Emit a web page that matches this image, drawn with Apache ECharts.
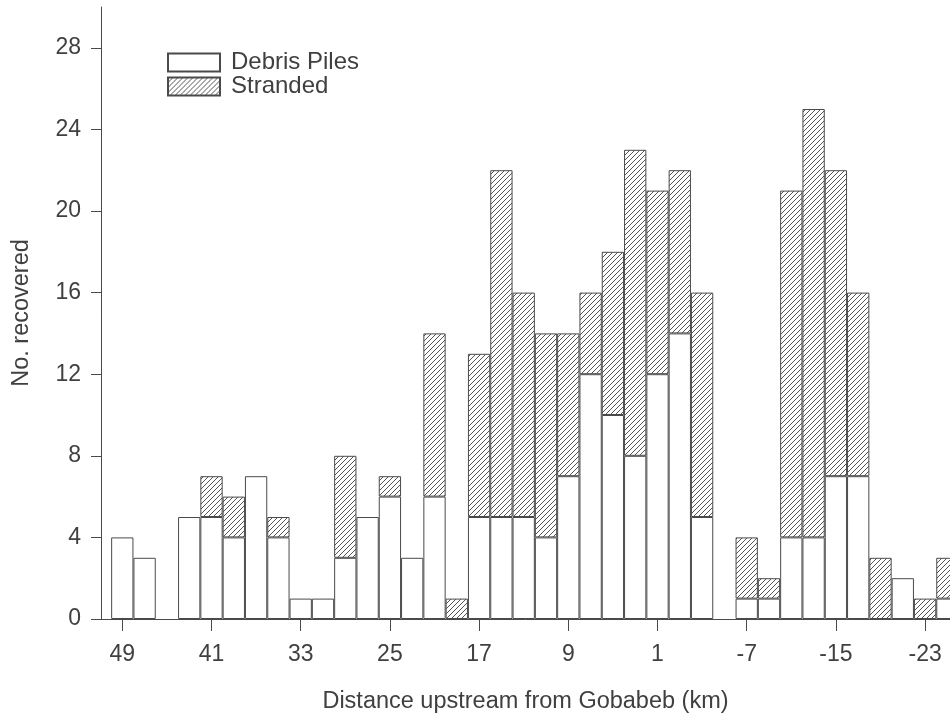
<!DOCTYPE html>
<html>
<head>
<meta charset="utf-8">
<script src="https://cdn.jsdelivr.net/npm/echarts@6/dist/echarts.min.js"></script>
<style>
html,body{margin:0;padding:0;background:#fff;}
#chart{width:950px;height:713px;}
</style>
</head>
<body>
<div id="chart"></div>
<script>
// Bin centres (km upstream from Gobabeb), 2 km bins
var distances = [49,47,45,43,41,39,37,35,33,31,29,27,25,23,21,19,17,15,13,11,9,7,5,3,1,-1,-3,-5,-7,-9,-11,-13,-15,-17,-19,-21,-23,-25];
var debrisPiles = [4,3,0,5,5,4,7,4,1,1,3,5,6,3,6,0,5,5,5,4,7,12,10,8,12,14,5,0,1,1,4,4,7,7,0,2,0,1];
var stranded   = [0,0,0,0,2,2,0,1,0,0,5,0,1,0,8,1,8,17,11,10,7,4,8,15,9,8,11,0,3,1,17,21,15,9,3,0,1,2];
var xTickValues = [49,41,33,25,17,9,1,-7,-15,-23];
var yTickValues = [0,4,8,12,16,20,24,28];

// layout
var AXIS_LEFT = 101, GRID_TOP = 7, GRID_BOTTOM = 94;
var PX_PER_KM = 11.15;
var FIRST_CENTER_PX = 122.3;        // pixel of the first bin centre (49 km)
var X_MAX = distances[0] + (FIRST_CENTER_PX - AXIS_LEFT) / PX_PER_KM;
var X_MIN = distances[0] - (950 - FIRST_CENTER_PX) / PX_PER_KM;
var BAND = 2 * PX_PER_KM;
var BAR_LEFT = FIRST_CENTER_PX - BAND / 2;
var BAR_WIDTH_TOTAL = BAND * distances.length;

// hatch pattern
var tile = document.createElement('canvas');
tile.width = 5; tile.height = 5;
var c = tile.getContext('2d');
c.fillStyle = '#ffffff';
c.fillRect(0,0,5,5);
c.strokeStyle = '#555555';
c.lineWidth = 1;
c.beginPath();
c.moveTo(-1,6); c.lineTo(6,-1);
c.moveTo(-1,1); c.lineTo(1,-1);
c.moveTo(4,6); c.lineTo(6,4);
c.stroke();

function drawable(vals){ return vals.map(function(v){ return v === 0 ? '-' : v; }); }

var textColor = '#404040';
var lineColor = '#4a4a4a';
var font = 'Liberation Sans';

var chart = echarts.init(document.getElementById('chart'), null, {renderer:'canvas'});
chart.setOption({
  backgroundColor: '#ffffff',
  animation: false,
  legend: {
    orient: 'vertical',
    left: 162, top: 45.5,
    itemWidth: 52, itemHeight: 18, itemGap: 0,
    icon: 'rect',
    textStyle: {fontFamily: font, fontSize: 24, color: textColor, padding:[0,0,0,6]},
    data: ['Debris Piles','Stranded']
  },
  grid: [
    {left: AXIS_LEFT, right: 0, top: GRID_TOP, bottom: GRID_BOTTOM, containLabel: false, outerBoundsMode: 'none'},
    {left: BAR_LEFT, width: BAR_WIDTH_TOTAL, top: GRID_TOP, bottom: GRID_BOTTOM, containLabel: false, outerBoundsMode: 'none'}
  ],
  xAxis: [{
    gridIndex: 0,
    type: 'value',
    inverse: true,
    min: X_MIN, max: X_MAX,
    name: 'Distance upstream from Gobabeb (km)',
    nameLocation: 'middle',
    nameGap: 71,
    nameTextStyle: {fontFamily: font, fontSize: 23.5, color: textColor},
    axisLine: {show: true, onZero: false, lineStyle: {color: lineColor, width: 1}},
    axisTick: {show: true, inside: false, length: 12, customValues: xTickValues, lineStyle: {color: lineColor}},
    axisLabel: {customValues: xTickValues, fontFamily: font, fontSize: 23, color: textColor, margin: 24.5},
    splitLine: {show: false}
  }, {
    gridIndex: 1,
    type: 'category',
    data: distances.map(String),
    show: false
  }],
  yAxis: [{
    gridIndex: 0,
    type: 'value',
    min: 0, max: 30,
    name: 'No. recovered',
    nameLocation: 'middle',
    nameGap: 67,
    nameTextStyle: {fontFamily: font, fontSize: 23.5, color: textColor},
    axisLine: {show: true, onZero: false, lineStyle: {color: lineColor, width: 1}},
    axisTick: {show: true, inside: false, length: 10, customValues: yTickValues, lineStyle: {color: lineColor}},
    axisLabel: {customValues: yTickValues, fontFamily: font, fontSize: 23, color: textColor, margin: 20},
    splitLine: {show: false}
  }, {
    gridIndex: 1,
    type: 'value',
    min: 0, max: 30,
    show: false
  }],
  series: [
    {
      name: 'Debris Piles', type: 'bar', stack: 'total',
      xAxisIndex: 1, yAxisIndex: 1,
      barWidth: '100%',
      itemStyle: {color: '#ffffff', borderColor: lineColor, borderWidth: 1},
      data: drawable(debrisPiles)
    },
    {
      name: 'Stranded', type: 'bar', stack: 'total',
      xAxisIndex: 1, yAxisIndex: 1,
      barWidth: '100%',
      itemStyle: {color: {image: tile, repeat: 'repeat'}, borderColor: lineColor, borderWidth: 1},
      data: drawable(stranded)
    }
  ]
});
</script>
</body>
</html>
